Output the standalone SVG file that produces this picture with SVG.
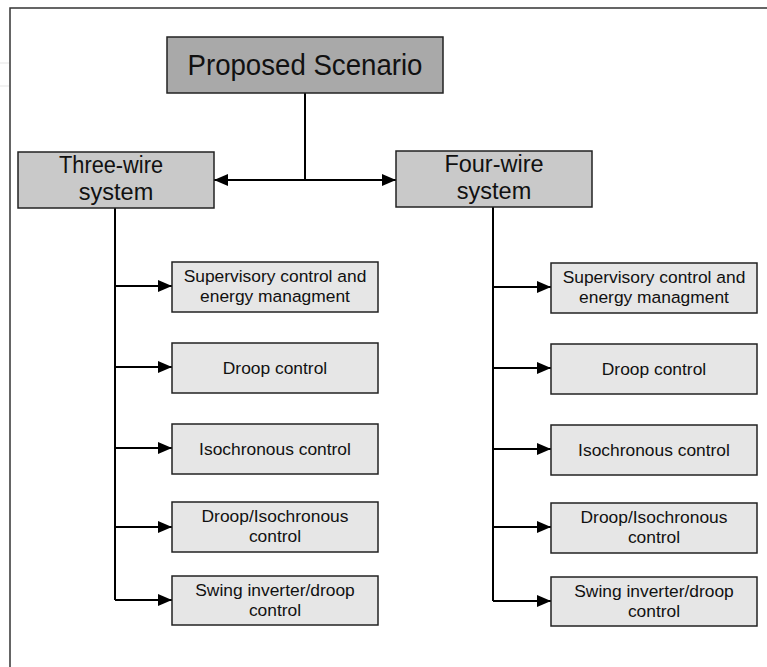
<svg xmlns="http://www.w3.org/2000/svg" width="767" height="667" viewBox="0 0 767 667">
<defs>
<marker id="ah" viewBox="0 0 14 12" refX="14" refY="6" markerWidth="14" markerHeight="12" markerUnits="userSpaceOnUse" orient="auto-start-reverse">
<path d="M0,0 L14,6 L0,12 z" fill="#000"/>
</marker>
<style>
.top{fill:#a9a9a9;stroke:#222;stroke-width:1.5}
.mid{fill:#c9c9c9;stroke:#222;stroke-width:1.5}
.sub{fill:#e6e6e6;stroke:#222;stroke-width:1.5}
.t{font-family:"Liberation Sans",Arial,sans-serif;fill:#111;text-anchor:middle}
.big{font-size:30px}
.md{font-size:23.5px}
.sm{font-size:17.4px}
.c{fill:none;stroke:#000;stroke-width:2}
.a{marker-end:url(#ah)}
</style>
</defs>
<rect width="767" height="667" fill="#fff"/>
<rect x="0" y="62" width="9" height="2" fill="#f2f2f2"/>
<rect x="0" y="85" width="9" height="2" fill="#f2f2f2"/>
<path d="M10,667 V8 H767" fill="none" stroke="#333" stroke-width="1.5"/>

<g id="connectors">
<path class="c" d="M305,93 V180"/>
<path class="c" d="M305,180 H214" marker-end="url(#ah)"/>
<path class="c" d="M305,180 H396" marker-end="url(#ah)"/>
<path class="c" d="M115,208 V600"/>
<path class="c a" d="M115,286 H172"/>
<path class="c a" d="M115,367 H172"/>
<path class="c a" d="M115,448 H172"/>
<path class="c a" d="M115,527 H172"/>
<path class="c a" d="M115,600 H172"/>
<path class="c" d="M493,207 V601"/>
<path class="c a" d="M493,287 H551"/>
<path class="c a" d="M493,368 H551"/>
<path class="c a" d="M493,449 H551"/>
<path class="c a" d="M493,527 H551"/>
<path class="c a" d="M493,601 H551"/>
</g>

<g id="proposed">
<rect class="top" x="167" y="37" width="276" height="56"/>
<text class="t big" x="305" y="75" textLength="235" lengthAdjust="spacingAndGlyphs">Proposed Scenario</text>
</g>

<g id="three-wire">
<rect class="mid" x="18" y="152" width="196" height="56"/>
<text class="t md" x="111" y="173" textLength="104" lengthAdjust="spacingAndGlyphs">Three-wire</text>
<text class="t md" x="116" y="200">system</text>
</g>

<g id="four-wire">
<rect class="mid" x="396" y="151" width="196" height="56"/>
<text class="t md" x="494" y="172">Four-wire</text>
<text class="t md" x="494" y="199">system</text>
</g>

<g id="l-supervisory">
<rect class="sub" x="172" y="262" width="206" height="50"/>
<text class="t sm" x="275" y="282">Supervisory control and</text>
<text class="t sm" x="275" y="302">energy managment</text>
</g>
<g id="l-droop">
<rect class="sub" x="172" y="343" width="206" height="50"/>
<text class="t sm" x="275" y="374">Droop control</text>
</g>
<g id="l-isochronous">
<rect class="sub" x="172" y="424" width="206" height="50"/>
<text class="t sm" x="275" y="455">Isochronous control</text>
</g>
<g id="l-droop-iso">
<rect class="sub" x="172" y="502" width="206" height="50"/>
<text class="t sm" x="275" y="522">Droop/Isochronous</text>
<text class="t sm" x="275" y="542">control</text>
</g>
<g id="l-swing">
<rect class="sub" x="172" y="576" width="206" height="49"/>
<text class="t sm" x="275" y="596">Swing inverter/droop</text>
<text class="t sm" x="275" y="616">control</text>
</g>

<g id="r-supervisory">
<rect class="sub" x="551" y="263" width="206" height="50"/>
<text class="t sm" x="654" y="283">Supervisory control and</text>
<text class="t sm" x="654" y="303">energy managment</text>
</g>
<g id="r-droop">
<rect class="sub" x="551" y="344" width="206" height="50"/>
<text class="t sm" x="654" y="375">Droop control</text>
</g>
<g id="r-isochronous">
<rect class="sub" x="551" y="425" width="206" height="50"/>
<text class="t sm" x="654" y="456">Isochronous control</text>
</g>
<g id="r-droop-iso">
<rect class="sub" x="551" y="503" width="206" height="50"/>
<text class="t sm" x="654" y="523">Droop/Isochronous</text>
<text class="t sm" x="654" y="543">control</text>
</g>
<g id="r-swing">
<rect class="sub" x="551" y="577" width="206" height="49"/>
<text class="t sm" x="654" y="597">Swing inverter/droop</text>
<text class="t sm" x="654" y="617">control</text>
</g>
</svg>
